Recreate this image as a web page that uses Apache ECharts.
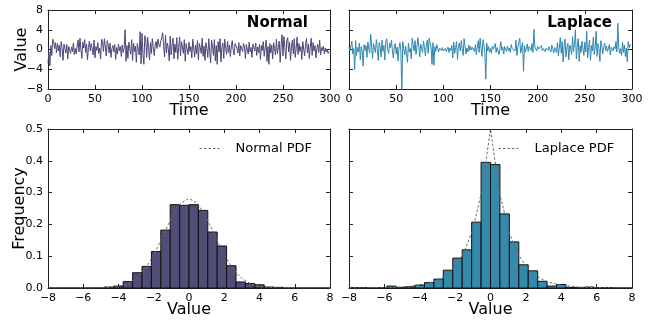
<!DOCTYPE html>
<html>
<head>
<meta charset="utf-8">
<script src="https://cdn.jsdelivr.net/npm/echarts@6/dist/echarts.min.js"></script>
<style>html,body{margin:0;padding:0;background:#fff}#c{width:657px;height:320px}</style>
</head>
<body>
<div id="c"></div>
<script>
// ---- data ----
const normalSeries = [
-2.8,-0.5,-3.3,0.8,-1.2,2.1,1.6,0.2,1.4,-0.6,1.2,-0.3,0.9,-1.5,1.6,0.4,-2.2,1.1,0.3,-0.7,1.0,-1.9,0.6,-0.2,-0.8,
0.5,-0.4,1.3,-1.0,0.2,-0.9,0.7,1.9,-0.5,2.3,0.1,-1.8,1.5,0.3,2.0,-0.6,1.1,-2.1,0.4,1.7,-0.3,1.2,0.8,-1.1,1.9,
-1.7,0.6,-0.2,1.4,-0.8,0.3,-1.9,2.1,1.6,-0.4,2.2,0.5,-1.3,1.8,0.9,-0.7,1.3,-1.6,0.2,0.8,-0.5,1.0,-2.0,0.4,-0.9,
1.1,-0.3,0.6,-1.4,0.9,-0.6,0.3,4.0,-2.4,0.8,-1.8,1.5,0.2,-0.9,2.0,-2.2,1.3,-0.4,0.7,-2.6,1.2,0.1,-1.1,3.6,-2.9,
3.3,-1.0,-3.0,2.8,1.9,-1.6,2.5,0.4,-2.1,1.4,-0.8,2.2,0.3,-1.2,0.9,1.6,0.2,2.1,1.0,0.5,1.8,2.4,3.4,0.6,-1.5,
2.9,-0.7,1.3,0.2,-2.3,2.7,-1.1,0.8,2.3,-1.9,1.1,-0.6,2.4,-2.0,0.4,2.5,-1.3,1.6,0.5,-0.8,2.0,-2.4,1.2,0.1,-1.0,
1.5,-0.4,0.6,-1.7,2.1,0.3,-1.5,0.9,-0.9,1.8,-2.1,1.2,0.4,-0.8,2.3,-1.4,0.7,-2.2,1.4,0.2,-1.6,2.2,-0.3,-2.7,1.9,
0.6,-1.2,2.0,-2.3,0.8,-3.0,1.6,-0.5,2.2,-2.5,0.4,1.3,-1.8,2.1,0.2,-1.0,1.7,-0.6,0.9,-1.4,0.5,1.8,-0.2,-1.1,1.2,
1.6,0.3,-0.7,1.4,-1.3,0.8,0.2,-0.4,1.2,0.6,-1.8,1.0,0.1,-0.9,1.5,-0.5,0.4,-1.6,1.1,0.7,-0.3,1.3,-1.2,0.5,-0.6,
1.0,-2.0,0.8,-0.2,1.6,-1.4,0.3,1.9,-2.4,0.6,-3.0,1.2,-0.7,0.9,-1.9,1.4,0.2,-1.1,2.1,-0.8,0.4,1.7,-2.6,1.0,3.0,
-1.3,2.6,0.4,-1.9,1.8,2.4,-0.5,1.5,-2.2,0.7,1.9,-0.9,2.2,-1.6,0.3,2.5,-1.0,1.2,-0.4,0.6,-2.0,1.6,0.1,-1.3,0.9,
2.2,-0.7,1.1,-1.8,0.5,2.3,-1.2,1.4,-0.3,0.8,-1.7,0.2,1.0,-0.6,1.9,-1.1,0.4,-0.2,0.7,-0.9,0.3,-0.5,0.1,-0.8,-0.4
];
const laplaceSeries = [
0.5,-0.3,-0.6,1.7,-0.9,0.2,-4.1,1.8,-1.2,0.4,-0.5,1.3,-2.1,0.6,-0.3,-3.4,1.0,-0.2,0.8,-1.6,1.5,0.1,-0.7,3.1,0.4,
-1.8,1.2,0.3,-0.6,2.0,0.2,-2.2,1.4,0.6,-1.5,1.9,-0.4,0.8,-2.1,1.6,2.2,0.1,-0.8,1.3,0.4,1.9,-0.2,-1.7,0.7,1.2,
-0.9,0.5,-2.3,0.3,1.4,-0.4,-8.6,1.6,0.2,-1.1,0.7,0.3,-2.6,1.3,-0.5,0.2,-1.9,2.3,0.8,-0.3,1.8,-1.0,0.5,2.4,0.6,
-1.5,1.1,0.2,-0.6,1.7,0.4,-1.3,0.9,1.9,-0.8,2.3,2.7,0.5,-3.0,1.4,-3.2,0.6,-0.4,1.0,0.2,-0.5,0.3,0.1,-0.2,0.4,
-0.3,0.1,0.2,-0.4,0.0,0.5,-0.6,0.3,-0.2,0.8,-1.7,1.5,-0.8,0.4,1.6,-2.0,0.6,1.3,-0.3,1.8,0.2,-1.2,2.2,0.7,-0.9,
0.3,-0.5,0.9,-0.2,0.6,-0.1,0.4,0.2,-0.4,1.0,-1.1,0.5,1.8,-0.6,2.3,0.3,-1.4,2.0,0.9,-0.7,-6.0,1.3,-0.3,0.6,-0.5,
0.2,-0.8,0.7,0.1,-0.3,1.2,-0.6,0.4,0.8,-1.0,0.3,1.6,-0.2,0.5,-0.9,0.6,0.1,-0.4,0.7,-0.2,0.3,-0.6,1.0,0.2,-0.1,
0.4,-0.3,1.9,-1.2,0.5,0.1,2.3,-0.7,0.3,1.4,-4.4,0.8,-0.5,0.2,1.1,-0.4,0.6,0.3,-0.2,1.2,-0.6,4.1,0.5,0.2,-0.3,
0.6,0.1,-0.2,0.4,0.8,-0.3,0.2,0.5,-0.4,0.3,0.0,-0.2,0.6,0.1,-0.5,0.9,0.2,-0.7,0.4,0.3,-0.6,1.4,-1.3,0.5,2.4,
-0.8,1.6,-2.5,0.7,2.1,-1.5,0.4,1.3,-2.1,0.9,0.3,-1.0,2.6,-0.4,1.0,4.0,-1.9,0.6,2.2,-2.4,0.8,-0.6,1.7,0.3,-1.2,
1.5,-0.5,3.7,-1.7,0.4,1.9,-2.2,0.8,-0.3,2.5,-1.0,0.5,3.7,-1.4,1.2,0.2,-2.4,1.8,0.6,-0.9,0.4,1.3,-0.2,0.7,-0.4,
0.3,1.0,-1.1,0.5,0.2,-0.3,0.6,0.1,1.6,-0.5,5.3,0.4,-0.8,0.2,-1.2,1.5,-0.6,0.9,-1.4,0.3,-2.5,1.6,0.4,1.0,0.8
];
// histogram: 30 equal bins spanning -8..8
const histMin = -8, histMax = 8, binCount = 30;
const normalDensity = [0,0,0,0,0,0,0.003,0.006,0.02,0.048,0.068,0.115,0.182,0.262,0.26,0.262,0.244,0.176,0.132,0.07,0.019,0.014,0.01,0.003,0.002,0,0,0,0,0];
const laplaceDensity = [0.001,0.001,0,0.001,0.006,0.002,0.004,0.009,0.017,0.028,0.056,0.094,0.12,0.207,0.395,0.388,0.233,0.145,0.073,0.054,0.021,0.006,0.011,0.002,0.001,0.003,0.001,0.001,0,0];
// PDF curves
const pdfX = [-8,-7.5,-7,-6.5,-6,-5.5,-5,-4.5,-4,-3.5,-3,-2.5,-2,-1.5,-1,-0.5,0,0.5,1,1.5,2,2.5,3,3.5,4,4.5,5,5.5,6,6.5,7,7.5,8];
const normalPdf = [0,0,0,0,0,0.0001,0.0005,0.002,0.005,0.013,0.030,0.059,0.104,0.161,0.220,0.265,0.282,0.265,0.220,0.161,0.104,0.059,0.030,0.013,0.005,0.002,0.0005,0.0001,0,0,0,0,0];
const laplacePdf = [0.0002,0.0003,0.0005,0.001,0.001,0.002,0.003,0.006,0.009,0.015,0.025,0.041,0.068,0.112,0.184,0.303,0.5,0.303,0.184,0.112,0.068,0.041,0.025,0.015,0.009,0.006,0.003,0.002,0.001,0.001,0.0005,0.0003,0.0002];
const timeTicks = [0,50,100,150,200,250,300];
const valueTicks = [-8,-4,0,4,8];
const histXTicks = [-8,-6,-4,-2,0,2,4,6,8];
const freqTicks = [0,0.1,0.2,0.3,0.4,0.5];

// ---- styling ----
const FONT = 'DejaVu Sans';
const cNormal = '#4a4876', cNormalBar = '#504e76';
const cLap = '#3087ad', cLapBar = '#3589aa';
const frame = '#222';
const pdfColor = '#6a6a6a';

const fmtNum = v => (v < 0 ? '\u2212' + Math.abs(v) : String(v));
const fmtDec = v => v.toFixed(1);

function axis(opts) {
  return Object.assign({
    type: 'value',
    nameMoveOverlap: false,
    axisLine: {show: true, onZero: false, lineStyle: {color: frame, width: 1}},
    axisTick: {show: true, inside: true, length: 4, lineStyle: {color: frame}},
    splitLine: {show: false},
    axisLabel: {show: false, color: '#000', fontFamily: FONT, fontSize: 11, margin: 5},
    nameTextStyle: {color: '#000', fontFamily: FONT, fontSize: 16},
    nameLocation: 'middle'
  }, opts);
}
function xPair(grid, min, max, interval, showLabel, fmt, name) {
  const b = axis({gridIndex: grid, min, max, interval, position: 'bottom', name: name || ''});
  b.nameGap = 14;
  b.nameTextStyle = Object.assign({}, b.nameTextStyle, {verticalAlign: 'top'});
  b.axisLabel = Object.assign({}, b.axisLabel, {show: showLabel, formatter: fmt});
  const t = axis({gridIndex: grid, min, max, interval, position: 'top'});
  return [b, t];
}
function yPair(grid, min, max, interval, showLabel, fmt, name, gap) {
  const l = axis({gridIndex: grid, min, max, interval, position: 'left', name: name || '', nameGap: gap || 20});
  l.axisLabel = Object.assign({}, l.axisLabel, {show: showLabel, formatter: fmt});
  const r = axis({gridIndex: grid, min, max, interval, position: 'right'});
  return [l, r];
}

const grids = [
  {left: 48, top: 10, width: 282, height: 79},
  {left: 349, top: 10, width: 283, height: 79},
  {left: 48, top: 129, width: 282, height: 159},
  {left: 349, top: 129, width: 283, height: 159}
];

const tMin = timeTicks[0], tMax = timeTicks[timeTicks.length-1], tInt = timeTicks[1]-timeTicks[0];
const vMin = valueTicks[0], vMax = valueTicks[valueTicks.length-1], vInt = valueTicks[1]-valueTicks[0];
const hMin = histXTicks[0], hMax = histXTicks[histXTicks.length-1], hInt = histXTicks[1]-histXTicks[0];
const fMin = freqTicks[0], fMax = freqTicks[freqTicks.length-1], fInt = freqTicks[1]-freqTicks[0];

const xAxes = [].concat(
  xPair(0, tMin, tMax, tInt, true, fmtNum, 'Time'),
  xPair(1, tMin, tMax, tInt, true, fmtNum, 'Time'),
  xPair(2, hMin, hMax, hInt, true, fmtNum, 'Value'),
  xPair(3, hMin, hMax, hInt, true, fmtNum, 'Value')
);
const yAxes = [].concat(
  yPair(0, vMin, vMax, vInt, true, fmtNum, 'Value', 18),
  yPair(1, vMin, vMax, vInt, false, fmtNum, ''),
  yPair(2, fMin, fMax, fInt, true, fmtDec, 'Frequency', 20),
  yPair(3, fMin, fMax, fInt, false, fmtDec, '')
);

const binW = (histMax - histMin) / binCount;
const histData = arr => arr.map((h, k) => [histMin + k*binW, histMin + (k+1)*binW, h]);
const pts = (xs, ys) => xs.map((x, i) => [x, ys[i]]);

function histSeries(xi, data, fill) {
  return {
    type: 'custom', xAxisIndex: xi, yAxisIndex: xi, data: data,
    encode: {x: [0, 1], y: 2},
    renderItem: function (params, api) {
      const p0 = api.coord([api.value(0), api.value(2)]);
      const p1 = api.coord([api.value(1), 0]);
      return {type: 'rect', shape: {x: p0[0], y: p0[1], width: p1[0]-p0[0], height: p1[1]-p0[1]},
              style: {fill: fill, stroke: '#111', lineWidth: 1}};
    }
  };
}

const legendBase = {
  padding: 0, itemWidth: 20, itemHeight: 10,
  itemStyle: {color: 'rgba(0,0,0,0)', borderColor: 'rgba(0,0,0,0)', borderWidth: 0},
  lineStyle: {width: 1},
  textStyle: {fontFamily: FONT, fontSize: 13, color: '#000', padding: [0,0,0,11]}
};

const option = {
  animation: false,
  backgroundColor: '#fff',
  textStyle: {fontFamily: FONT},
  grid: grids,
  xAxis: xAxes,
  yAxis: yAxes,
  title: [
    {text: 'Normal', right: 344, top: 11, textStyle: {fontFamily: FONT, fontSize: 15, fontWeight: 'bold', color: '#000'}},
    {text: 'Laplace', right: 40, top: 11, textStyle: {fontFamily: FONT, fontSize: 15, fontWeight: 'bold', color: '#000'}}
  ],
  legend: [
    Object.assign({}, legendBase, {data: ['Normal PDF'], left: 199, top: 142}),
    Object.assign({}, legendBase, {data: ['Laplace PDF'], left: 498, top: 142})
  ],
  series: [
    {type: 'line', xAxisIndex: 0, yAxisIndex: 0, data: normalSeries.map((v, i) => [i, v]),
     showSymbol: false, symbol: 'none', lineStyle: {color: cNormal, width: 1}},
    {type: 'line', xAxisIndex: 2, yAxisIndex: 2, data: laplaceSeries.map((v, i) => [i, v]),
     showSymbol: false, symbol: 'none', lineStyle: {color: cLap, width: 1}},
    histSeries(4, histData(normalDensity), cNormalBar),
    {name: 'Normal PDF', type: 'line', xAxisIndex: 4, yAxisIndex: 4, data: pts(pdfX, normalPdf),
     symbol: 'none', z: 5, itemStyle: {color: pdfColor}, lineStyle: {color: pdfColor, width: 1, type: [2.5, 2]}},
    histSeries(6, histData(laplaceDensity), cLapBar),
    {name: 'Laplace PDF', type: 'line', xAxisIndex: 6, yAxisIndex: 6, data: pts(pdfX, laplacePdf),
     symbol: 'none', z: 5, itemStyle: {color: pdfColor}, lineStyle: {color: pdfColor, width: 1, type: [2.5, 2]}}
  ]
};
echarts.init(document.getElementById('c'), null, {renderer: 'canvas'}).setOption(option);
</script>
</body>
</html>
